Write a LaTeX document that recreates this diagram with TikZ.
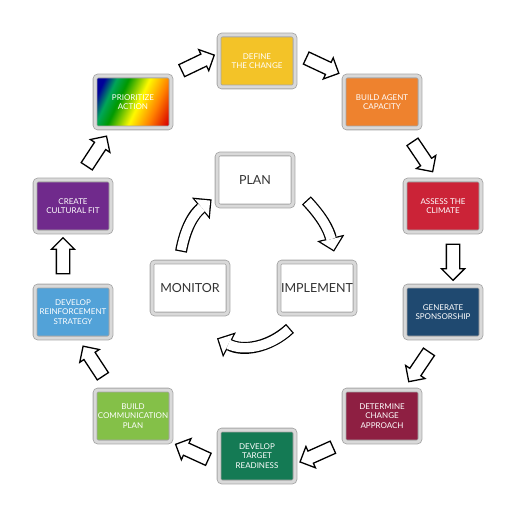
\documentclass[tikz,border=0pt]{standalone}
\usepackage{fontspec}
\setmainfont{Lato}
\usetikzlibrary{arrows.meta,shapes.arrows,shadows}

\definecolor{defcol}{RGB}{243,195,40}
\definecolor{buildcol}{RGB}{238,130,46}
\definecolor{assesscol}{RGB}{203,35,55}
\definecolor{gencol}{RGB}{31,73,112}
\definecolor{detcol}{RGB}{142,31,66}
\definecolor{targetcol}{RGB}{20,122,84}
\definecolor{commcol}{RGB}{132,192,72}
\definecolor{reinfcol}{RGB}{82,162,216}
\definecolor{cultcol}{RGB}{112,42,140}
\pgfdeclarehorizontalshading{rainbow}{100bp}{color(0bp)=(blue!60!black); color(24bp)=(blue!60!black); color(32bp)=(teal!70!green); color(40bp)=(green!60!black); color(54bp)=(yellow!95!orange); color(67bp)=(orange); color(80bp)=(red!85!black); color(100bp)=(red!85!black)}

\tikzset{
  stage/.style={rectangle, rounded corners=3pt, draw=gray!70, double=gray!30, double distance=3pt, line width=0.8pt, minimum width=76pt, minimum height=52pt, inner sep=1pt, align=center, text=white, font=\fontsize{8}{9.5}\selectfont, drop shadow={shadow xshift=1.5pt, shadow yshift=-1.5pt, opacity=0.3}},
  phase/.style={stage, fill=white, text=black!80, font=\fontsize{12.5}{14}\selectfont},
  blockarr/.style={single arrow, draw=black, fill=white, line width=1.3pt, minimum height=36pt, inner xsep=0pt, inner ysep=6pt, single arrow head extend=5pt, sloped, allow upside down},
  fatline/.style={line width=12pt, -{Triangle[length=14pt,width=28pt,line width=0pt 0 0]}},
  fatfill/.style={line width=9.4pt, white, shorten <=1.3pt, shorten >=1.84pt, -{Triangle[length=10.9pt,width=21.7pt,line width=0pt 0 0]}}
}

\begin{document}
\begin{tikzpicture}[x=1pt,y=-1pt]
\useasboundingbox (0,0) rectangle (518,521);

\node[stage, fill=defcol] (define) at (257,61) {DEFINE\\THE CHANGE};
\node[stage, fill=buildcol] (build) at (382,102) {BUILD AGENT\\CAPACITY};
\node[stage, fill=assesscol] (assess) at (443,206) {ASSESS THE\\CLIMATE};
\node[stage, fill=gencol] (generate) at (443,312) {GENERATE\\SPONSORSHIP};
\node[stage, fill=detcol] (determine) at (382,416) {DETERMINE\\CHANGE\\APPROACH};
\node[stage, fill=targetcol] (target) at (257,456) {DEVELOP\\TARGET\\READINESS};
\node[stage, fill=commcol] (comm) at (133,416) {BUILD\\COMMUNICATION\\PLAN};
\node[stage, fill=reinfcol] (reinf) at (73,312) {DEVELOP\\REINFORCEMENT\\STRATEGY};
\node[stage, fill=cultcol] (culture) at (73,206) {CREATE\\CULTURAL FIT};
\node[stage, shade, shading=rainbow, shading angle=-25] (prio) at (133,102) {PRIORITIZE\\ACTION};

\node[phase] (plan) at (255,180) {PLAN};
\node[phase] (monitor) at (190,288) {MONITOR};
\node[phase] (implement) at (317,288) {IMPLEMENT};

\path (prio.north east) -- node[blockarr] {} ([yshift=8pt]define.west);
\path ([yshift=8pt]define.east) -- node[blockarr] {} (build.north west);
\path ([xshift=-17pt]build.south east) -- node[blockarr] {} ([xshift=-5pt]assess.north);
\path ([xshift=10pt]assess.south) -- node[blockarr] {} ([xshift=10pt]generate.north);
\path ([xshift=-5pt]generate.south) -- node[blockarr] {} ([xshift=-17pt]determine.north east);
\path (determine.south west) -- node[blockarr] {} ([yshift=-8pt]target.east);
\path ([yshift=-8pt]target.west) -- node[blockarr] {} (comm.south east);
\path ([xshift=17pt]comm.north west) -- node[blockarr] {} ([xshift=5pt]reinf.south);
\path ([xshift=-10pt]reinf.north) -- node[blockarr] {} ([xshift=-10pt]culture.south);
\path ([xshift=5pt]culture.north) -- node[blockarr] {} ([xshift=17pt]prio.south west);

\draw[fatline] ([shift={(-9,-10)}]monitor.north) to[bend left=20] ([shift={(-5,-7)}]plan.south west);
\draw[fatfill] ([shift={(-9,-10)}]monitor.north) to[bend left=20] ([shift={(-5,-7)}]plan.south west);
\draw[fatline] ([shift={(13,-6)}]plan.south east) to[bend left=15] ([shift={(17,-10)}]implement.north);
\draw[fatfill] ([shift={(13,-6)}]plan.south east) to[bend left=15] ([shift={(17,-10)}]implement.north);
\draw[fatline] ([shift={(-27,14)}]implement.south) to[bend left=35] ([shift={(27,24)}]monitor.south);
\draw[fatfill] ([shift={(-27,14)}]implement.south) to[bend left=35] ([shift={(27,24)}]monitor.south);
\end{tikzpicture}
\end{document}
